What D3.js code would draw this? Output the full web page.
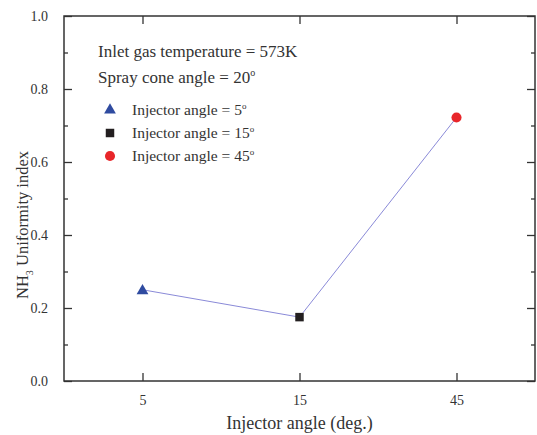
<!DOCTYPE html>
<html>
<head>
<meta charset="utf-8">
<script src="https://cdn.jsdelivr.net/npm/d3@7"></script>
<style>
  body { margin: 0; background: #fff; }
  text { font-family: "Liberation Serif", "Times New Roman", serif; fill: #333; }
</style>
</head>
<body>
<div id="container"></div>
<script>
// Data
const angles = ["5", "15", "45"];
const uniformity = [0.25, 0.175, 0.722];
const markers = ["triangle", "square", "circle"];
const colors = ["#2f4ba0", "#231f20", "#e8262a"];
const legendLabels = ["Injector angle = 5", "Injector angle = 15", "Injector angle = 45"];
const yTicks = [0.0, 0.2, 0.4, 0.6, 0.8, 1.0];
const yMinor = [0.1, 0.3, 0.5, 0.7, 0.9];

const width = 537, height = 435;
const margin = { top: 16, right: 2, bottom: 54, left: 64 };

const svg = d3.select("#container").append("svg")
    .attr("width", width)
    .attr("height", height);

const x = d3.scalePoint()
    .domain(angles)
    .range([margin.left, width - margin.right])
    .padding(0.5);

const y = d3.scaleLinear()
    .domain([0, 1])
    .range([height - margin.bottom, margin.top]);

const axisColor = "#333";

// axes with inward ticks, mirrored
const gx = svg.append("g")
    .attr("transform", `translate(0,${y(0)})`)
    .call(d3.axisBottom(x).tickSizeInner(-8).tickSizeOuter(0).tickPadding(14).tickFormat(d => d));
const gxTop = svg.append("g")
    .attr("transform", `translate(0,${y(1)})`)
    .call(d3.axisTop(x).tickSizeInner(-8).tickSizeOuter(0).tickFormat(""));

const gy = svg.append("g")
    .attr("transform", `translate(${margin.left},0)`)
    .call(d3.axisLeft(y).tickValues(yTicks).tickSizeInner(-8).tickSizeOuter(0).tickPadding(16).tickFormat(d3.format(".1f")));
const gyMinor = svg.append("g")
    .attr("transform", `translate(${margin.left},0)`)
    .call(d3.axisLeft(y).tickValues(yMinor).tickSizeInner(-4).tickSizeOuter(0).tickFormat(""));
const gyR = svg.append("g")
    .attr("transform", `translate(${width - margin.right},0)`)
    .call(d3.axisRight(y).tickValues(yTicks).tickSizeInner(-8).tickSizeOuter(0).tickFormat(""));
const gyRMinor = svg.append("g")
    .attr("transform", `translate(${width - margin.right},0)`)
    .call(d3.axisRight(y).tickValues(yMinor).tickSizeInner(-4).tickSizeOuter(0).tickFormat(""));

[gx, gxTop, gy, gyMinor, gyR, gyRMinor].forEach(g => {
    g.select(".domain").remove();
    g.selectAll("line").attr("stroke", axisColor).attr("stroke-width", 1.3);
    g.selectAll("text").attr("font-size", 14).attr("fill", "#333")
        .style("font-family", "Liberation Serif, serif");
});

// frame
svg.append("rect")
    .attr("x", margin.left)
    .attr("y", margin.top)
    .attr("width", width - margin.right - margin.left)
    .attr("height", y(0) - margin.top)
    .attr("fill", "none")
    .attr("stroke", axisColor)
    .attr("stroke-width", 1.5);

// line
const pts = angles.map((a, i) => ({ a, v: uniformity[i], m: markers[i], c: colors[i] }));
svg.append("path")
    .datum(pts)
    .attr("d", d3.line().x(d => x(d.a)).y(d => y(d.v)))
    .attr("fill", "none")
    .attr("stroke", "#8a8ad8")
    .attr("stroke-width", 1);

const symbolType = { triangle: d3.symbolTriangle, square: d3.symbolSquare, circle: d3.symbolCircle };
const symbolSize = { triangle: 60, square: 72, circle: 80 };

svg.append("g")
    .selectAll("path")
    .data(pts)
    .join("path")
    .attr("transform", d => `translate(${x(d.a)},${y(d.v) + (d.m === "triangle" ? 1 : 0)})`)
    .attr("d", d => d3.symbol(symbolType[d.m], symbolSize[d.m])())
    .attr("fill", d => d.c);

// annotations
const ann = svg.append("g").attr("font-size", 17);
ann.append("text").attr("x", 98).attr("y", 57).text("Inlet gas temperature = 573K");
const t2 = ann.append("text").attr("x", 98).attr("y", 83).text("Spray cone angle = 20");
t2.append("tspan").attr("dy", -7).attr("font-size", 10).text("o");

// legend
const leg = svg.append("g")
    .selectAll("g")
    .data(legendLabels)
    .join("g")
    .attr("transform", (d, i) => `translate(110,${110 + i * 23})`);
leg.append("path")
    .attr("d", (d, i) => d3.symbol(symbolType[markers[i]], symbolSize[markers[i]])())
    .attr("fill", (d, i) => colors[i]);
const lt = leg.append("text")
    .attr("x", 22)
    .attr("y", 5)
    .attr("font-size", 15.5)
    .text(d => d);
lt.append("tspan").attr("dy", -6).attr("font-size", 9).text("o");

// axis titles
svg.append("text")
    .attr("x", (margin.left + width - margin.right) / 2)
    .attr("y", 429)
    .attr("text-anchor", "middle")
    .attr("font-size", 18)
    .text("Injector angle (deg.)");

const yl = svg.append("text")
    .attr("transform", `translate(28,225) rotate(-90)`)
    .attr("text-anchor", "middle")
    .attr("font-size", 16.5)
    .text("NH");
yl.append("tspan").attr("dy", 5).attr("font-size", 10).text("3");
yl.append("tspan").attr("dy", -5).text(" Uniformity index");
</script>
</body>
</html>
